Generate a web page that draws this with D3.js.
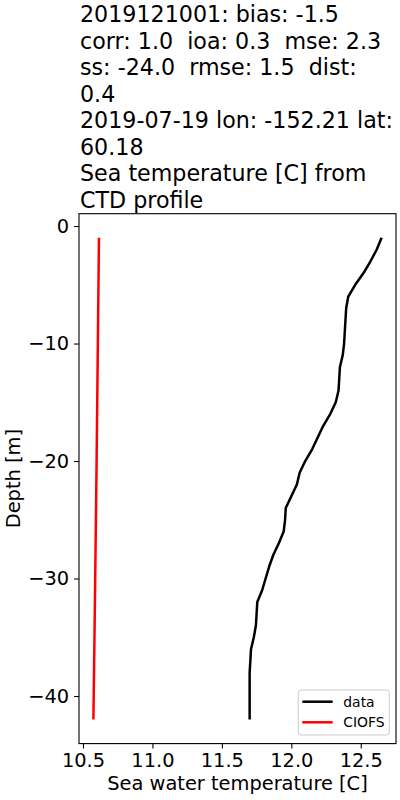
<!DOCTYPE html>
<html>
<head>
<meta charset="utf-8">
<script src="https://cdn.jsdelivr.net/npm/d3@7"></script>
<style>
body { margin: 0; background: #fff; }
text { font-family: "DejaVu Sans", sans-serif; white-space: pre; }
</style>
</head>
<body>
<svg id="graph" width="400" height="800"></svg>
<script>
// title lines (as wrapped in the figure)
var titleLines = [
    "2019121001: bias: -1.5",
    "corr: 1.0  ioa: 0.3  mse: 2.3",
    "ss: -24.0  rmse: 1.5  dist:",
    "0.4",
    "2019-07-19 lon: -152.21 lat:",
    "60.18",
    "Sea temperature [C] from",
    "CTD profile"
];

// CTD profile (data)
var dataDepth = [-1, -2, -3, -4, -5, -6, -7, -8, -9, -10, -11, -12, -13, -14, -15, -16, -17, -18, -19, -20, -21,
                 -22, -23, -24, -25, -26, -27, -28, -29, -30, -31, -32, -33, -34, -35, -36, -37, -38, -39, -40, -41, -42];
var dataTemp = [12.65, 12.615, 12.57, 12.52, 12.46, 12.41, 12.395, 12.39, 12.385, 12.38, 12.37, 12.35, 12.345, 12.34,
                12.32, 12.28, 12.23, 12.19, 12.15, 12.10, 12.06, 12.04, 12.00, 11.96, 11.955, 11.945, 11.91, 11.87,
                11.84, 11.815, 11.79, 11.755, 11.75, 11.745, 11.73, 11.71, 11.705, 11.70, 11.70, 11.70, 11.70, 11.70];

// model (CIOFS)
var modelDepth = [-1, -10, -20, -30, -42];
var modelTemp = [10.615, 10.607, 10.598, 10.588, 10.575];

var xTicks = [10.5, 11.0, 11.5, 12.0, 12.5];
var yTicks = [0, -10, -20, -30, -40];
var legendNames = ["data", "CIOFS"];
var legendColors = ["#000000", "#ff0000"];

var svg = d3.select("#graph");
var box = {left: 79, right: 396, top: 213.7, bottom: 743.6};

// matplotlib style 5% margins
var pad = function(lo, hi) {
    var m = (hi - lo) * 0.05;
    return [lo - m, hi + m];
}
var allT = dataTemp.concat(modelTemp);
var allD = dataDepth.concat(modelDepth);

var xScale = d3.scaleLinear()
    .domain(pad(d3.min(allT), d3.max(allT)))
    .range([box.left, box.right]);
var yScale = d3.scaleLinear()
    .domain(pad(d3.min(allD), d3.max(allD)))
    .range([box.bottom, box.top]);

// title
svg.append("g")
    .selectAll("text")
    .data(titleLines)
    .enter()
    .append("text")
    .attr("x", 80)
    .attr("y", function(d, i) { return 22 + i * 26.5; })
    .attr("font-size", "22.2px")
    .attr("fill", "#000")
    .attr("xml:space", "preserve")
    .text(function(d) { return d; });

// axes
var xAxis = d3.axisBottom(xScale)
    .tickValues(xTicks)
    .tickSizeInner(4.9)
    .tickSizeOuter(0)
    .tickPadding(4.9)
    .tickFormat(d3.format(".1f"));
var yAxis = d3.axisLeft(yScale)
    .tickValues(yTicks)
    .tickSizeInner(4.9)
    .tickSizeOuter(0)
    .tickPadding(4.9)
    .tickFormat(d3.format("d"));

var gx = svg.append("g")
    .attr("transform", "translate(0," + box.bottom + ")")
    .call(xAxis);
var gy = svg.append("g")
    .attr("transform", "translate(" + box.left + ",0)")
    .call(yAxis);

[gx, gy].forEach(function(g) {
    g.select(".domain").remove();
    g.selectAll(".tick line").attr("stroke", "#000").attr("stroke-width", 1.1);
    g.selectAll(".tick text")
        .attr("font-family", "DejaVu Sans")
        .attr("font-size", "19.4px")
        .attr("fill", "#000");
});

// lines
var line = d3.line()
    .x(function(d) { return xScale(d[0]); })
    .y(function(d) { return yScale(d[1]); });

var dataPts = dataTemp.map(function(t, i) { return [t, dataDepth[i]]; });
var modelPts = modelTemp.map(function(t, i) { return [t, modelDepth[i]]; });

svg.append("path")
    .datum(dataPts)
    .attr("d", line)
    .attr("fill", "none")
    .attr("stroke", legendColors[0])
    .attr("stroke-width", 2.5)
    .attr("stroke-linejoin", "round");
svg.append("path")
    .datum(modelPts)
    .attr("d", line)
    .attr("fill", "none")
    .attr("stroke", legendColors[1])
    .attr("stroke-width", 2.5)
    .attr("stroke-linejoin", "round");

// frame
svg.append("rect")
    .attr("x", box.left)
    .attr("y", box.top)
    .attr("width", box.right - box.left)
    .attr("height", box.bottom - box.top)
    .attr("fill", "none")
    .attr("stroke", "#000")
    .attr("stroke-width", 1.1);

// axis labels
svg.append("text")
    .attr("x", (box.left + box.right) / 2)
    .attr("y", 790)
    .attr("text-anchor", "middle")
    .attr("font-size", "19.4px")
    .text("Sea water temperature [C]");
svg.append("text")
    .attr("transform", "translate(20," + ((box.top + box.bottom) / 2) + ") rotate(-90)")
    .attr("text-anchor", "middle")
    .attr("font-size", "19.4px")
    .text("Depth [m]");

// legend
var legend = svg.append("g");
legend.append("rect")
    .attr("x", 298.3)
    .attr("y", 690)
    .attr("width", 91)
    .attr("height", 45)
    .attr("rx", 3)
    .attr("fill", "#fff")
    .attr("fill-opacity", 0.8)
    .attr("stroke", "#cccccc")
    .attr("stroke-width", 1);
var items = legend.selectAll("g.item")
    .data(legendNames)
    .enter()
    .append("g")
    .attr("class", "item")
    .attr("transform", function(d, i) { return "translate(0," + (701.7 + i * 20.6) + ")"; });
items.append("line")
    .attr("x1", 302.3)
    .attr("x2", 332.7)
    .attr("stroke", function(d, i) { return legendColors[i]; })
    .attr("stroke-width", 2.5);
items.append("text")
    .attr("x", 343.3)
    .attr("y", 5)
    .attr("font-size", "13.9px")
    .text(function(d) { return d; });
</script>
</body>
</html>
